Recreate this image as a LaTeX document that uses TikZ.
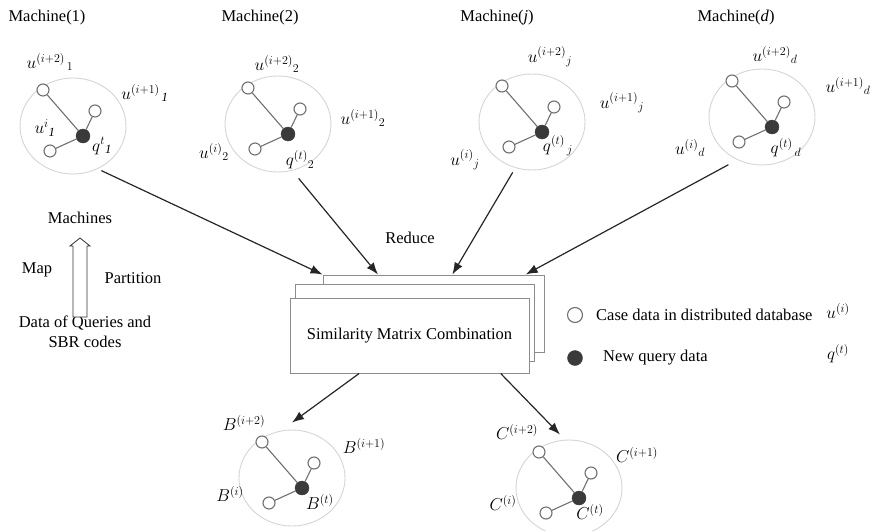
\documentclass[tikz,border=0pt]{standalone}
\usepackage{fontspec}
\setmainfont{Liberation Serif}
\usepackage{tikz}
\usetikzlibrary{arrows.meta,calc,shapes.geometric}
\definecolor{ringgray}{RGB}{212,212,212}
\definecolor{edgegray}{RGB}{112,112,112}
\definecolor{dotdark}{RGB}{58,58,58}
\definecolor{boxgray}{RGB}{140,140,140}
\tikzset{
  ring/.style  ={ellipse,draw=ringgray,line width=0.9pt,minimum width=106pt,minimum height=96pt,inner sep=0pt},
  dcase/.style ={circle,draw=edgegray,fill=white,line width=1.1pt,minimum size=12pt,inner sep=0pt},
  dquery/.style={circle,draw=dotdark,fill=dotdark,minimum size=14pt,inner sep=0pt},
  link/.style  ={edgegray,line width=1.1pt},
  sheet/.style ={rectangle,draw=boxgray,fill=white,line width=1pt,inner sep=0pt},
  ar/.style    ={-{Latex[length=12pt,width=9pt]},line width=1.2pt,black!85},
}

\begin{document}
\begin{tikzpicture}[x=1pt,y=-1pt,font=\fontsize{16.5}{19.8}\selectfont,
  lab/.style={inner sep=0pt},
  mlab/.style={inner sep=0pt,font=\fontsize{18}{20}\selectfont}]
  \useasboundingbox (0,0) rectangle (874,530);
  % machines and result clusters
  \foreach \n/\x/\y in {m1/73/126, m2/278/124, mj/532/122, md/762/117, rb/292/478, rc/569/488} {
    \node[ring] (\n) at (\x,\y) {};
    \node[dcase]  (\n-a) at ($(\n)+(-30,-36)$) {};
    \node[dcase]  (\n-b) at ($(\n)+(22,-15)$) {};
    \node[dcase]  (\n-c) at ($(\n)+(-23,25)$) {};
    \node[dquery] (\n-q) at ($(\n)+(10,10)$) {};
    \draw[link] (\n-a) -- (\n-q); \draw[link] (\n-b) -- (\n-q); \draw[link] (\n-c) -- (\n-q);
  }
  \node[lab] (h1) at (47,18)  {Machine(1)};
  \node[lab] (h2) at (260,18) {Machine(2)};
  \node[lab] (hj) at (497,18) {Machine(\textit{j})};
  \node[lab] (hd) at (736,18) {Machine(\textit{d})};
  % labels round the clusters
  \node[mlab] at (50,62)   {$u^{(i+2)}{}_{\,1}$};
  \node[mlab] at (145,93)  {$u^{(i+1)}{}_{\,\mathit{1}}$};
  \node[mlab] at (45,128)  {$u^{i}{}_{\mathit{1}}$};
  \node[mlab] at (102,146) {$q^{t}{}_{\mathit{1}}$};
  \node[mlab] at (277,64)  {$u^{(i+2)}{}_{2}$};
  \node[mlab] at (363,118) {$u^{(i+1)}{}_{2}$};
  \node[mlab] at (214,152) {$u^{(i)}{}_{2}$};
  \node[mlab] at (300,160) {$q^{(t)}{}_{2}$};
  \node[mlab] at (550,57)  {$u^{(i+2)}{}_{j}$};
  \node[mlab] at (622,103) {$u^{(i+1)}{}_{j}$};
  \node[mlab] at (465,160) {$u^{(i)}{}_{j}$};
  \node[mlab] at (558,146) {$q^{(t)}{}_{\,j}$};
  \node[mlab] at (775,55)  {$u^{(i+2)}{}_{d}$};
  \node[mlab] at (848,86)  {$u^{(i+1)}{}_{d}$};
  \node[mlab] at (690,148) {$u^{(i)}{}_{d}$};
  \node[mlab] at (786,148) {$q^{(t)}{}_{\,d}$};
  \node[mlab] at (244,423) {$B^{(i+2)}$};
  \node[mlab] at (364,446) {$B^{(i+1)}$};
  \node[mlab] at (230,494) {$B^{(i)}$};
  \node[mlab] at (320,502) {$B^{(t)}$};
  \node[mlab] at (517,432) {$C^{(i+2)}$};
  \node[mlab] at (637,455) {$C^{(i+1)}$};
  \node[mlab] at (503,503) {$C^{(i)}$};
  \node[mlab] at (590,512) {$C^{(t)}$};
  % stacked reduce sheets
  \node[sheet,minimum width=221pt,minimum height=77pt] (back)  at (433.5,313.5) {};
  \node[sheet,minimum width=239pt,minimum height=77pt] (mid)   at (414.5,322.5) {};
  \node[sheet,minimum width=239pt,minimum height=75pt] (front) at (409.5,335.5) {Similarity Matrix Combination};
  \node[lab] (red) at (410,238) {Reduce};
  \draw[ar,shorten <=4pt]  (m1.-60)  -- (back.north west);
  \draw[ar,shorten <=10pt] (m2.-73)  -- ($(back.north west)!0.25!(back.north east)$);
  \draw[ar,shorten <=5pt]  (mj.-110) -- ($(back.north west)!0.585!(back.north east)$);
  \draw[ar,shorten <=10pt] (md.-120) -- ($(back.north west)!0.915!(back.north east)$);
  \draw[ar] ($(front.south west)!0.29!(front.south east)$) -- ($(rb.north)+(0,-7)$);
  \draw[ar] ($(front.south west)!0.88!(front.south east)$) -- ($(rc.north)+(-9,-5)$);
  % map / partition
  \node[lab] (mach) at (80,218) {Machines};
  \node[lab,align=center] (data) at (85,332) {Data of Queries and\\SBR codes};
  \draw[black!80,line width=0.8pt,fill=white]
    (73,317) -- (73,246) -- (70,246) -- (80,238) -- (90,246) -- (87,246) -- (87,317) -- cycle;
  \node[lab] (map)  at (37,270)  {Map};
  \node[lab] (part) at (133,278) {Partition};
  % legend
  \node[dcase,minimum size=15pt] (lc) at (575,315) {};
  \node[lab,anchor=west] (lct) at (596,315) {Case data in distributed database};
  \node[mlab] (lcs) at (838,311) {$u^{(i)}$};
  \node[dquery,minimum size=15pt] (lq) at (575,358) {};
  \node[lab,anchor=west] (lqt) at (603,358) {New query data};
  \node[mlab] (lqs) at (838,354) {$q^{(t)}$};
\end{tikzpicture}
\end{document}
